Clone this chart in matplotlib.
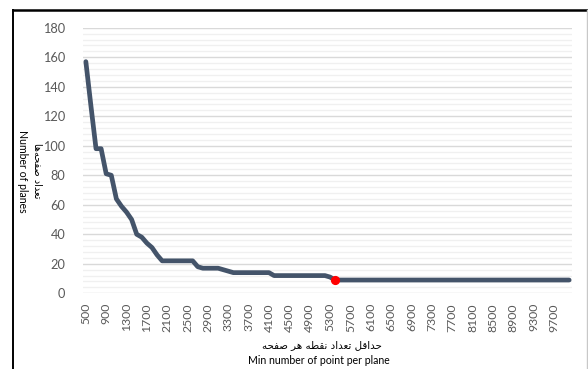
import numpy as np
import matplotlib
matplotlib.use("Agg")
import matplotlib.pyplot as plt
from matplotlib.lines import Line2D

# ---------------- data ----------------
categories = list(range(500, 10001, 100))          # min number of points per plane
planes = ([157, 127, 98, 98, 81, 80, 64, 59, 55, 50, 40, 38, 34, 31, 26, 22]
          + [22] * 6                                # 2100..2600
          + [18, 17, 17, 17, 17, 16, 15]            # 2700..3300
          + [14] * 8                                # 3400..4100
          + [12] * 10                               # 4200..5100
          + [12, 11, 9]                             # 5200..5400
          )
planes += [9] * (len(categories) - len(planes))
highlight_x = 5400
highlight_y = 9
tick_every = 4
y_max = 180
y_major = 20
y_minor = 4

xlabel_fa = "حداقل تعداد نقطه هر صفحه"
xlabel_en = "Min number of point per plane"
ylabel_fa = "تعداد صفحه\u200cها"
ylabel_en = "Number of planes"

# ---------------- minimal Persian shaping (presentation forms) ----------------
FORMS = {  # iso, fin, ini, med
    "\u0627": ("\uFE8D", "\uFE8E", None, None),
    "\u062A": ("\uFE95", "\uFE96", "\uFE97", "\uFE98"),
    "\u062D": ("\uFEA1", "\uFEA2", "\uFEA3", "\uFEA4"),
    "\u062F": ("\uFEA9", "\uFEAA", None, None),
    "\u0631": ("\uFEAD", "\uFEAE", None, None),
    "\u0635": ("\uFEB9", "\uFEBA", "\uFEBB", "\uFEBC"),
    "\u0637": ("\uFEC1", "\uFEC2", "\uFEC3", "\uFEC4"),
    "\u0639": ("\uFEC9", "\uFECA", "\uFECB", "\uFECC"),
    "\u0641": ("\uFED1", "\uFED2", "\uFED3", "\uFED4"),
    "\u0642": ("\uFED5", "\uFED6", "\uFED7", "\uFED8"),
    "\u0644": ("\uFEDD", "\uFEDE", "\uFEDF", "\uFEE0"),
    "\u0646": ("\uFEE5", "\uFEE6", "\uFEE7", "\uFEE8"),
    "\u0647": ("\uFEE9", "\uFEEA", "\uFEEB", "\uFEEC"),
}


def shape(text):
    chars = list(text)
    out = []
    for i, c in enumerate(chars):
        if c not in FORMS:
            if c != "\u200c":
                out.append(c)
            continue
        prev = chars[i - 1] if i > 0 else None
        nxt = chars[i + 1] if i + 1 < len(chars) else None
        joins_prev = prev in FORMS and FORMS[prev][2] is not None
        joins_next = nxt in FORMS and FORMS[c][2] is not None
        iso, fin, ini, med = FORMS[c]
        if joins_prev and joins_next:
            out.append(med)
        elif joins_prev:
            out.append(fin)
        elif joins_next:
            out.append(ini)
        else:
            out.append(iso)
    return "".join(reversed(out))


# ---------------- figure ----------------
W, H = 588, 369
fig = plt.figure(figsize=(W / 100, H / 100), dpi=100)
fig.patch.set_facecolor("white")

left, right, top, bottom = 83.3, 571.7, 27.7, 293.3
ax = fig.add_axes([left / W, 1 - bottom / H, (right - left) / W, (bottom - top) / H])

font_main = ["Lato", "DejaVu Sans"]
cat_labels = [str(c) for c in categories]
ax.plot(cat_labels, planes, color="#44546A", lw=3.4,
        solid_joinstyle="round", solid_capstyle="round", zorder=3)
ax.plot([str(highlight_x)], [highlight_y], "o", color="#FF0000",
        markersize=5.6, zorder=4)

ax.set_xlim(-0.5, len(categories) - 0.5)
ax.set_ylim(0, y_max)
ax.set_xticks(range(0, len(categories), tick_every))
ax.set_xticklabels(cat_labels[::tick_every], rotation=90, fontsize=8.8,
                   color="#595959", family=font_main)
ax.set_yticks(np.arange(0, y_max + 1, y_major))
ax.set_yticks(np.arange(0, y_max + 1, y_minor), minor=True)
ax.set_yticklabels([str(v) for v in range(0, y_max + 1, y_major)],
                   fontsize=9.2, color="#595959", family=font_main)
ax.tick_params(axis="both", which="both", length=0)
ax.tick_params(axis="y", pad=13)
ax.tick_params(axis="x", pad=7)
ax.grid(axis="y", which="major", color="#d9d9d9", lw=1.0, zorder=1)
ax.grid(axis="y", which="minor", color="#f0f0f0", lw=1.0, zorder=0)
for s in ax.spines.values():
    s.set_visible(False)

# axis titles
fig.text(322 / W, 1 - 345 / H, shape(xlabel_fa), ha="center", va="center",
         fontsize=7.4, color="#000000", family=["DejaVu Sans"])
fig.text(319 / W, 1 - 361 / H, xlabel_en, ha="center", va="center",
         fontsize=7.6, color="#000000", family=font_main)
fig.text(37 / W, 1 - 171 / H, shape(ylabel_fa), ha="center", va="center",
         rotation=-90, fontsize=7.0, color="#000000", family=["DejaVu Sans"])
fig.text(22.5 / W, 1 - 171.5 / H, ylabel_en, ha="center", va="center",
         rotation=-90, fontsize=7.6, color="#000000", family=font_main)

# outer frame (screenshot border)
fig.add_artist(Line2D([13.3 / W, 13.3 / W], [0, 1 - 10 / H], color="black",
                      lw=1.4, transform=fig.transFigure))
fig.add_artist(Line2D([13.3 / W, 1], [1 - 10 / H, 1 - 10 / H], color="black",
                      lw=1.8, transform=fig.transFigure))
fig.add_artist(Line2D([586.8 / W, 586.8 / W], [0, 1 - 10 / H], color="#c8c8c8",
                      lw=1.0, transform=fig.transFigure))

fig.savefig("out.png", dpi=100, facecolor="white")
